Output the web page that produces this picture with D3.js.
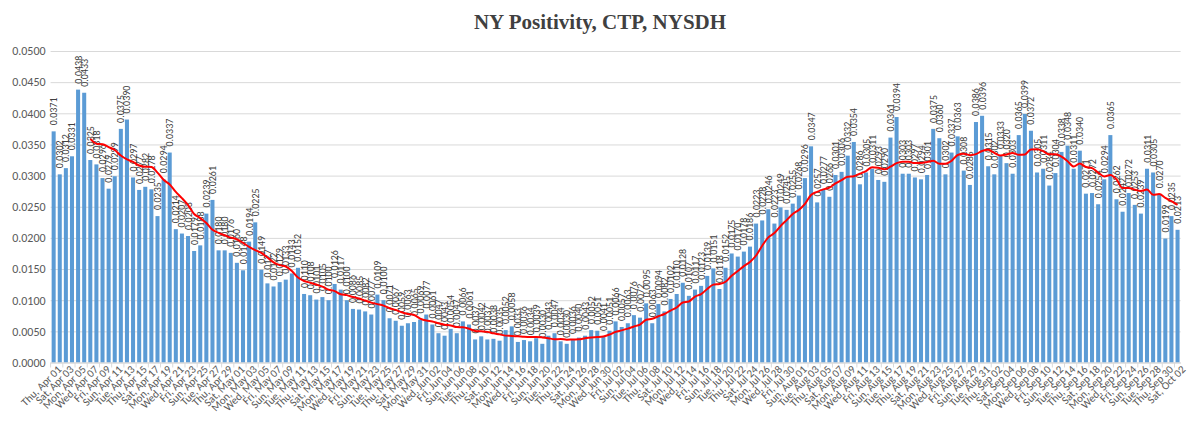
<!DOCTYPE html>
<html><head><meta charset="utf-8">
<script src="https://cdn.jsdelivr.net/npm/d3@7"></script>
<style>body{margin:0;background:#fff}svg{display:block}</style>
</head><body><svg id="c" width="1200" height="431"></svg>
<script>
const title = "NY Positivity, CTP, NYSDH";
const firstDay = "2021-04-01";
const lastDay = "2021-10-02";
const positivity = [
0.0371,0.0302,0.0312,0.0331,0.0438,0.0433,0.0325,0.0318,0.0296,0.0279,
0.0299,0.0375,0.0390,0.0297,0.0277,0.0282,0.0278,0.0235,0.0294,0.0337,
0.0214,0.0207,0.0203,0.0179,0.0188,0.0239,0.0261,0.0180,0.0180,0.0176,
0.0160,0.0148,0.0194,0.0225,0.0149,0.0127,0.0122,0.0129,0.0133,0.0143,
0.0152,0.0110,0.0108,0.0101,0.0105,0.0100,0.0126,0.0117,0.0100,0.0086,
0.0085,0.0082,0.0077,0.0109,0.0100,0.0071,0.0067,0.0059,0.0063,0.0065,
0.0069,0.0077,0.0061,0.0047,0.0043,0.0054,0.0047,0.0066,0.0061,0.0037,
0.0042,0.0037,0.0038,0.0035,0.0052,0.0058,0.0033,0.0036,0.0034,0.0039,
0.0030,0.0043,0.0047,0.0034,0.0030,0.0036,0.0040,0.0043,0.0052,0.0051,
0.0041,0.0051,0.0066,0.0057,0.0063,0.0076,0.0072,0.0095,0.0063,0.0094,
0.0082,0.0102,0.0110,0.0128,0.0107,0.0117,0.0123,0.0139,0.0151,0.0118,
0.0152,0.0175,0.0170,0.0178,0.0186,0.0223,0.0228,0.0246,0.0223,0.0249,
0.0245,0.0255,0.0268,0.0296,0.0347,0.0257,0.0277,0.0266,0.0301,0.0306,
0.0332,0.0354,0.0286,0.0305,0.0311,0.0293,0.0290,0.0361,0.0394,0.0303,
0.0303,0.0297,0.0294,0.0301,0.0375,0.0360,0.0302,0.0337,0.0363,0.0308,
0.0285,0.0386,0.0396,0.0315,0.0302,0.0333,0.0320,0.0303,0.0365,0.0399,
0.0372,0.0305,0.0311,0.0284,0.0304,0.0338,0.0348,0.0311,0.0340,0.0271,
0.0272,0.0254,0.0294,0.0365,0.0262,0.0242,0.0272,0.0253,0.0239,0.0311,
0.0305,0.0270,0.0199,0.0235,0.0213
];
const yTicks = [0,0.005,0.01,0.015,0.02,0.025,0.03,0.035,0.04,0.045,0.05];
const trendPeriod = 7; // Excel moving-average trendline period

const parse = d3.timeParse("%Y-%m-%d");
const days = d3.timeDay.range(parse(firstDay), d3.timeDay.offset(parse(lastDay), 1));
const fmtDay = d3.timeFormat("%a, %b %d");
const fmtVal = d3.format(".4f");

const svg = d3.select("#c");
const L = 50.6, R = 1180.6, T = 51, B = 362.5;
const x = d3.scaleBand().domain(d3.range(positivity.length)).range([L, R]).paddingInner(0.34).paddingOuter(0.17);
const y = d3.scaleLinear().domain([0, 0.05]).range([B, T]);
const font = "Carlito, Calibri, 'Liberation Sans', Arial, sans-serif";

svg.append("rect").attr("width",1200).attr("height",431).attr("fill","#fff");

// title
svg.append("text").attr("x", 600).attr("y", 29).attr("text-anchor","middle")
  .attr("font-family","'Liberation Serif', 'Times New Roman', serif").attr("font-weight","bold")
  .attr("font-size", 21).attr("fill","#404040").text(title);

// gridlines + y labels
const yAxis = d3.axisLeft(y).tickValues(yTicks).tickFormat(d3.format(".4f")).tickSize(-(R - L)).tickPadding(5);
const gy = svg.append("g").attr("transform", `translate(${L},0)`).call(yAxis);
gy.select(".domain").remove();
gy.selectAll(".tick line").attr("stroke","#d9d9d9").attr("stroke-width",1);
gy.selectAll(".tick text").attr("font-family", font).attr("font-size", 12).attr("fill","#595959");

// bars
svg.append("g").selectAll("rect").data(positivity).join("rect")
  .attr("x", (d,i) => x(i)).attr("width", x.bandwidth())
  .attr("y", d => y(d)).attr("height", d => y(0) - y(d))
  .attr("fill", "#5b9bd5");

// x axis
const xAxis = d3.axisBottom(x).tickValues(d3.range(0, positivity.length, 2))
  .tickFormat(i => fmtDay(days[i])).tickSize(0).tickPadding(4);
const gx = svg.append("g").attr("transform", `translate(0,${B})`).call(xAxis);
gx.select(".domain").attr("stroke","#d9d9d9");
gx.selectAll(".tick text").attr("font-family", font).attr("font-size", 11).attr("fill","#595959")
  .attr("text-anchor","end").attr("transform","translate(3,2) rotate(-45)").attr("dy","0.35em");
// category boundary ticks every two days
svg.append("g").selectAll("line").data(d3.range(0, positivity.length + 1, 2)).join("line")
  .attr("x1", i => L + i * x.step())
  .attr("x2", i => L + i * x.step())
  .attr("y1", B).attr("y2", B + 5).attr("stroke", "#d9d9d9");

// data labels
svg.append("g").selectAll("text").data(positivity).join("text")
  .attr("transform", (d,i) => `translate(${x(i) + x.bandwidth()/2 + 3.5},${y(d) - 6}) rotate(-90)`)
  .attr("font-family", font).attr("font-size", 10).attr("fill", "#404040")
  .text(d => fmtVal(d));

// moving-average trendline
const trend = positivity.map((d,i) => i < trendPeriod - 1 ? null : d3.mean(positivity.slice(i - trendPeriod + 1, i + 1)));
const line = d3.line().defined(d => d != null).x((d,i) => x(i) + x.bandwidth()/2).y(d => y(d)).curve(d3.curveMonotoneX);
svg.append("path").datum(trend).attr("d", line).attr("fill","none").attr("stroke","#ff0000").attr("stroke-width", 2);
</script></body></html>
